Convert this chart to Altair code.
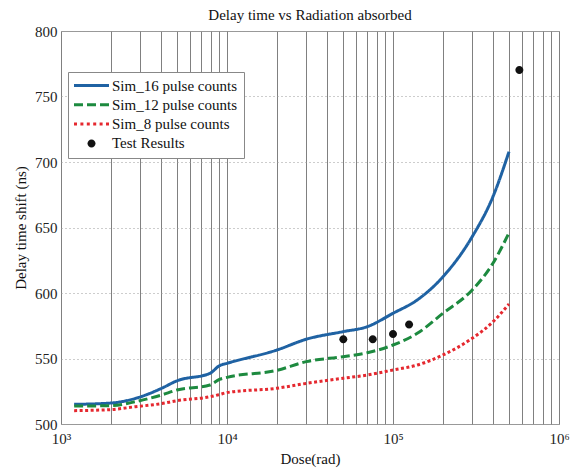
import altair as alt
import pandas as pd

# ---------------- data ----------------
series_names = ["Sim_16 pulse counts", "Sim_12 pulse counts", "Sim_8 pulse counts", "Test Results"]

dose = [1200, 2000, 2800, 4000, 5000, 7900, 9000, 10000, 20000, 30000,
        50000, 70000, 100000, 140000, 200000, 300000, 400000, 500000]
sim16 = [515.0, 516.0, 519.5, 527.0, 533.0, 538.7, 544.5, 546.3, 556.5, 564.7,
         570.5, 574.3, 584.5, 594.7, 612.4, 643.0, 673.5, 707.9]
sim12 = [513.7, 514.0, 517.0, 522.0, 526.0, 529.8, 534.0, 535.6, 541.0, 547.6,
         551.4, 554.4, 560.3, 569.2, 584.5, 602.3, 622.7, 646.0]
sim8 = [510.2, 511.0, 513.2, 515.5, 517.8, 520.8, 522.5, 524.0, 527.3, 531.0,
        534.9, 537.4, 541.2, 545.0, 552.7, 565.4, 578.0, 591.6]

test_dose = [50200, 75500, 100000, 125000, 577000]
test_delay = [564.7, 564.7, 568.7, 576.0, 770.2]

x_tick_values = [1000, 2000, 3000, 4000, 5000, 6000, 7000, 8000, 9000,
                 10000, 20000, 30000, 40000, 50000, 60000, 70000, 80000, 90000,
                 100000, 200000, 300000, 400000, 500000, 600000, 700000, 800000, 900000,
                 1000000]
x_major = [1000, 10000, 100000, 1000000]
x_major_labels = ["10³", "10⁴", "10⁵", "10⁶"]
y_ticks = [500, 550, 600, 650, 700, 750, 800]

colors = ["#1f62a3", "#1d8a3f", "#e5282f", "#111111"]
dashes = [[1, 0], [9, 4], [3, 2.5]]

# ---------------- tables ----------------
rows = []
for name, vals in zip(series_names[:3], [sim16, sim12, sim8]):
    for d, v in zip(dose, vals):
        rows.append({"dose": d, "delay": v, "series": name})
lines_df = pd.DataFrame(rows)
test_df = pd.DataFrame({"dose": test_dose, "delay": test_delay,
                        "series": [series_names[3]] * len(test_dose)})

# ---------------- legend symbol shapes (unit square paths) ----------------
SYM = 35.0
HALF = SYM / 2


def rect_path(segments, thick=1.5):
    out = []
    y = thick / HALF
    for a, b in segments:
        x0 = a / HALF - 1
        x1 = b / HALF - 1
        out.append(f"M{x0:.4f},{-y:.4f}H{x1:.4f}V{y:.4f}H{x0:.4f}Z")
    return "".join(out)


r = 4.0 / HALF
circle_path = f"M{-r:.4f},0A{r:.4f},{r:.4f} 0 1,0 {r:.4f},0A{r:.4f},{r:.4f} 0 1,0 {-r:.4f},0Z"
shape_paths = [
    rect_path([(0, 35)]),
    rect_path([(0, 9), (13, 22), (26, 35)]),
    rect_path([(0, 3), (6.4, 9.4), (12.8, 15.8), (19.2, 22.2), (25.6, 28.6), (32, 35)]),
    circle_path,
]

label_expr = " : ".join(
    f"datum.value == {v} ? '{t}'" for v, t in zip(x_major, x_major_labels)
) + " : ''"

FONT = "Liberation Serif"

x_enc = alt.X(
    "dose:Q",
    scale=alt.Scale(type="log", domain=[1000, 1000000], nice=False),
    axis=alt.Axis(values=x_tick_values, labelExpr=label_expr, title="Dose(rad)",
                  grid=True, gridColor="#808080", gridWidth=1, tickSize=0,
                  labelPadding=7, titlePadding=5, domain=False,
                  labelFlush=False, labelOverlap=False),
)
y_enc = alt.Y(
    "delay:Q",
    scale=alt.Scale(domain=[500, 800], nice=False, zero=False),
    axis=alt.Axis(values=y_ticks, title="Delay time shift (ns)", grid=True,
                  gridColor="#9a9a9a", gridDash=[1, 3], tickSize=0,
                  labelPadding=4, titlePadding=6, domain=False),
)

lines = alt.Chart(lines_df).mark_line(strokeWidth=3, interpolate="monotone").encode(
    x=x_enc,
    y=y_enc,
    stroke=alt.Stroke("series:N",
                      scale=alt.Scale(domain=series_names[:3], range=colors[:3]),
                      legend=None),
    strokeDash=alt.StrokeDash("series:N",
                              scale=alt.Scale(domain=series_names[:3], range=dashes),
                              legend=None),
)

points = alt.Chart(test_df).mark_point(filled=True, size=SYM * SYM, opacity=1,
                                       strokeWidth=0).encode(
    x="dose:Q",
    y="delay:Q",
    color=alt.Color("series:N", scale=alt.Scale(domain=series_names, range=colors),
                    title=None),
    shape=alt.Shape("series:N", scale=alt.Scale(domain=series_names, range=shape_paths),
                    title=None),
)

chart = alt.layer(lines, points).properties(
    width=498,
    height=393,
    padding={"left": 53, "top": 23, "right": 13, "bottom": 44},
    autosize=alt.AutoSizeParams(type="none"),
    title=alt.TitleParams("Delay time vs Radiation absorbed", font=FONT, fontSize=15,
                          fontWeight="normal", color="#111111", offset=1),
).configure_view(
    stroke="#999999", strokeWidth=1
).configure_axis(
    labelFont=FONT, labelFontSize=15, labelColor="#222222",
    titleFont=FONT, titleFontSize=15, titleFontWeight="normal", titleColor="#111111",
).configure_legend(
    orient="none", legendX=7, legendY=41, padding=6,
    strokeColor="#888888", fillColor="white", cornerRadius=0,
    labelFont=FONT, labelFontSize=15, labelColor="#111111",
    rowPadding=3.3, clipHeight=15, symbolSize=SYM * SYM, labelOffset=3,
    symbolStrokeWidth=0, symbolOpacity=1,
)

chart.save("out.html", embed_options={"renderer": "svg", "actions": False})
